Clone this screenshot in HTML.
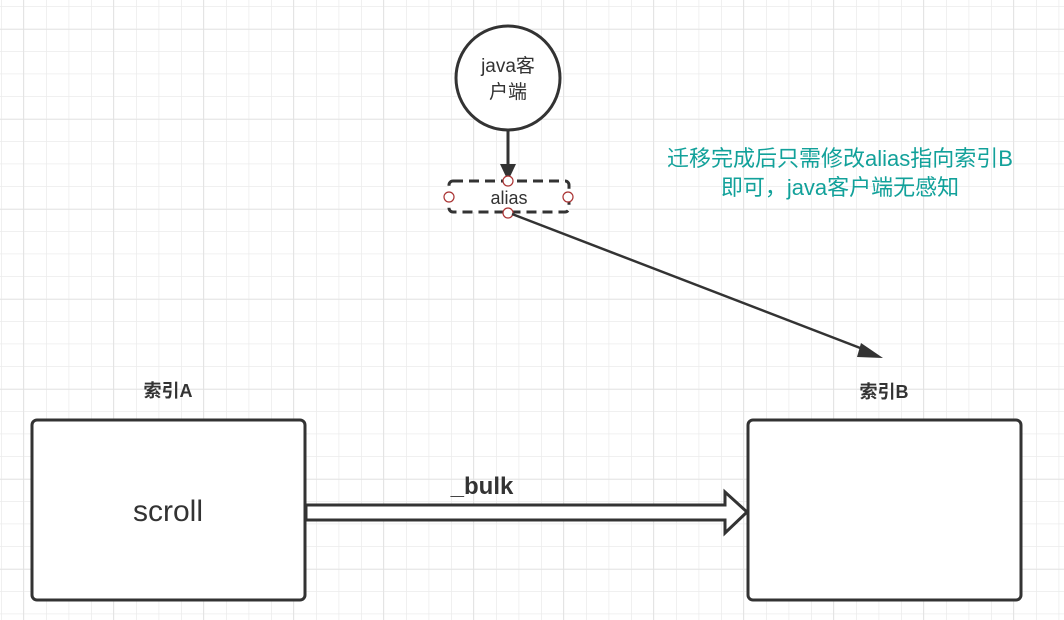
<!DOCTYPE html>
<html><head><meta charset="utf-8"><style>
html,body{margin:0;padding:0;background:#fff}
svg{display:block}
text{font-family:"Liberation Sans","Noto Sans CJK SC",sans-serif}
</style></head><body>
<svg width="1064" height="620" viewBox="0 0 1064 620" xmlns="http://www.w3.org/2000/svg">
<defs>
<pattern id="g" x="1" y="6" width="22.5" height="22.5" patternUnits="userSpaceOnUse">
<path d="M0 0V22.5M0 0H22.5" stroke="#ececec" stroke-width="1.5" fill="none"/>
</pattern>
<pattern id="G" x="23" y="29" width="90" height="90" patternUnits="userSpaceOnUse">
<path d="M0 0V90M0 0H90" stroke="#e2e2e2" stroke-width="1.5" fill="none"/>
</pattern>
</defs>
<rect width="1064" height="620" fill="url(#g)"/>
<rect width="1064" height="620" fill="url(#G)"/>

<circle cx="508" cy="78" r="52" fill="#fff" stroke="#333" stroke-width="3"/>
<text x="508" y="72" font-size="19" text-anchor="middle" fill="#333">java客</text>
<text x="508" y="98" font-size="19" text-anchor="middle" fill="#333">户端</text>

<line x1="508" y1="130" x2="508" y2="166" stroke="#333" stroke-width="3"/>
<polygon points="500,164 516,164 508,181" fill="#333"/>

<rect x="449" y="181" width="120" height="31" rx="4" fill="#fff" stroke="#333" stroke-width="3" stroke-dasharray="10,6"/>
<text x="509" y="204" font-size="18" text-anchor="middle" fill="#333">alias</text>
<g fill="#fff" stroke="#a33" stroke-width="1.2">
<circle cx="508" cy="181" r="5"/><circle cx="508" cy="213" r="5"/>
<circle cx="449" cy="197" r="5"/><circle cx="568" cy="197" r="5"/>
</g>

<line x1="512" y1="214" x2="868" y2="351" stroke="#333" stroke-width="2.5"/>
<polygon points="861,343 883,358 857,357" fill="#333"/>

<text x="840" y="166" font-size="22" text-anchor="middle" fill="#12a19a">迁移完成后只需修改alias指向索引B</text>
<text x="840" y="195" font-size="22" text-anchor="middle" fill="#12a19a">即可，java客户端无感知</text>

<text x="168" y="397" font-size="18" font-weight="bold" text-anchor="middle" fill="#333">索引A</text>
<text x="884" y="398" font-size="18" font-weight="bold" text-anchor="middle" fill="#333">索引B</text>

<rect x="32" y="420" width="273" height="180" rx="5" fill="#fff" stroke="#333" stroke-width="3"/>
<text x="168" y="521" font-size="30" text-anchor="middle" fill="#333">scroll</text>
<rect x="748" y="420" width="273" height="180" rx="5" fill="#fff" stroke="#333" stroke-width="3"/>

<polygon points="306,505 725,505 725,492 747,512 725,533 725,520 306,520" fill="#fff" stroke="#333" stroke-width="3" stroke-linejoin="miter"/>
<text x="482" y="494" font-size="24" font-weight="bold" text-anchor="middle" fill="#333">_bulk</text>
</svg>
</body></html>
